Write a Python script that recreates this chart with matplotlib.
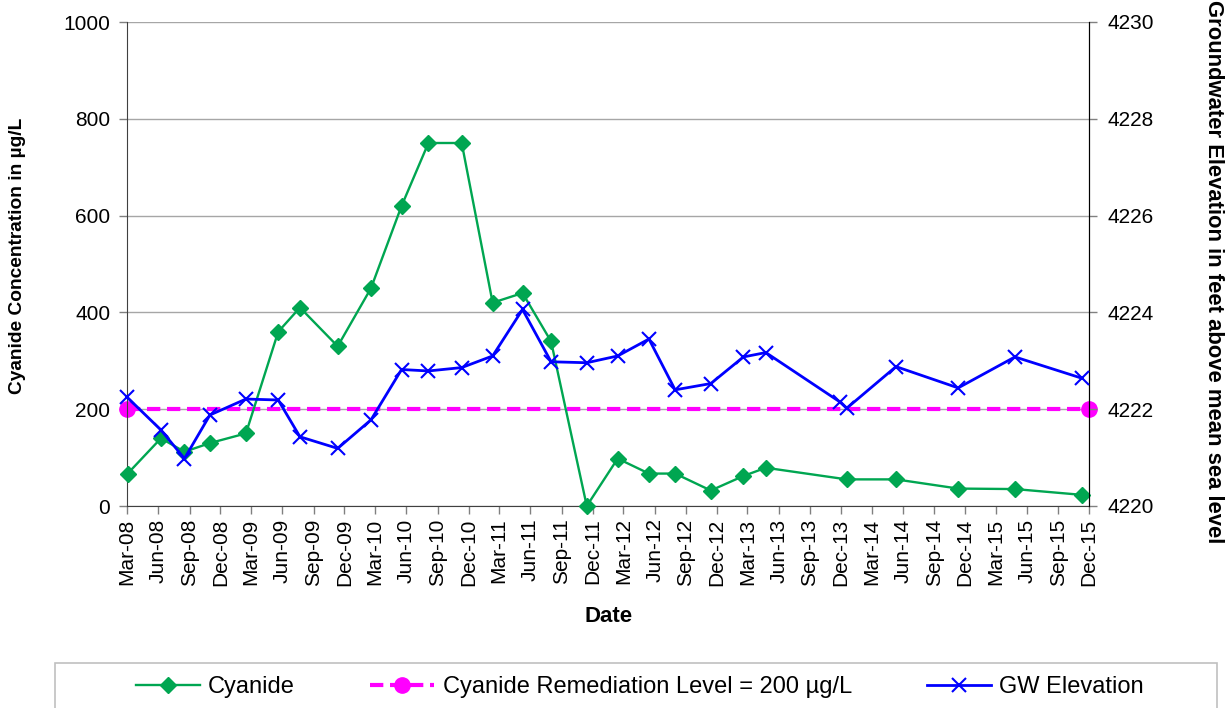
import matplotlib
matplotlib.use("Agg")
import matplotlib.pyplot as plt
import matplotlib.dates as mdates
import pandas as pd
from matplotlib.patches import Rectangle

# dados de cianeto (ug/L) e nivel da agua subterranea (ft)
datas_cianeto = ["2008-03-03", "2008-06-09", "2008-08-17", "2008-10-31", "2009-02-14",
                 "2009-05-20", "2009-07-23", "2009-11-11", "2010-02-17", "2010-05-18",
                 "2010-08-05", "2010-11-11", "2011-02-10", "2011-05-09", "2011-08-01",
                 "2011-11-14", "2012-02-13", "2012-05-15", "2012-07-31", "2012-11-13",
                 "2013-02-17", "2013-04-24", "2013-12-18", "2014-05-12", "2014-11-11",
                 "2015-04-27", "2015-11-10"]
cianeto = [67, 140, 112, 130, 150, 360, 410, 330, 450, 620, 750, 750, 420, 440, 340,
           0, 98, 67, 67, 32, 62, 79, 55, 55, 36, 35, 23]

datas_gw = ["2008-03-01", "2008-06-09", "2008-08-17", "2008-10-31", "2009-02-14",
            "2009-05-20", "2009-07-23", "2009-11-11", "2010-02-17", "2010-05-18",
            "2010-08-05", "2010-11-11", "2011-02-10", "2011-05-09", "2011-08-01",
            "2011-11-14", "2012-02-13", "2012-05-15", "2012-07-31", "2012-11-13",
            "2013-02-17", "2013-04-24", "2013-11-28", "2013-12-18", "2014-05-12",
            "2014-11-11", "2015-04-27", "2015-11-10"]
nivel_gw = [4222.25, 4221.57, 4220.98, 4221.88, 4222.21, 4222.19, 4221.43, 4221.19,
            4221.78, 4222.82, 4222.79, 4222.86, 4223.10, 4224.06, 4222.98, 4222.96,
            4223.10, 4223.45, 4222.40, 4222.53, 4223.08, 4223.17, 4222.15, 4222.02,
            4222.88, 4222.44, 4223.08, 4222.64]

datas_limite = ["2008-03-01", "2015-12-01"]
limite = [200, 200]

inicio_eixo = "2008-03-01"
fim_eixo = "2015-12-01"

plt.rcParams['font.family'] = ['Liberation Sans', 'DejaVu Sans']

fig = plt.figure(figsize=(12.27, 7.08), dpi=100)
ax = fig.add_axes([127 / 1227, 1 - 506 / 708, (1089 - 127) / 1227, (506 - 22) / 708])
ax2 = ax.twinx()

x_cn = pd.to_datetime(datas_cianeto)
x_gw = pd.to_datetime(datas_gw)
x_lim = pd.to_datetime(datas_limite)

l1, = ax.plot(x_cn, cianeto, color="#00a651", lw=1.7, marker="D", ms=8.5,
              clip_on=False, zorder=3, label="Cyanide")
l2, = ax.plot(x_lim, limite, color="#ff00ff", lw=3, ls=(0, (3.2, 1.6)), marker="o",
              ms=11, clip_on=False, zorder=2,
              label="Cyanide Remediation Level = 200 µg/L")
l3, = ax2.plot(x_gw, nivel_gw, color="#0000ff", lw=2, marker="x", ms=10, mew=1.5,
               clip_on=False, zorder=3, label="GW Elevation")

ax.set_xlim(pd.Timestamp(inicio_eixo), pd.Timestamp(fim_eixo))
ax.set_ylim(0, 1000)
ax.set_yticks(range(0, 1001, 200))
ax2.set_ylim(4220, 4230)
ax2.set_yticks(range(4220, 4231, 2))

ax.xaxis.set_major_locator(mdates.MonthLocator(bymonth=[3, 6, 9, 12]))
ax.xaxis.set_major_formatter(mdates.DateFormatter("%b-%y"))
for lbl in ax.get_xticklabels():
    lbl.set_rotation(90)

ax.grid(axis="y", color="#a6a6a6", lw=1.0)
ax.set_axisbelow(True)

for a in (ax, ax2):
    a.spines["top"].set_visible(False)
    a.tick_params(labelsize=15, length=6, width=1, color="#808080", pad=6)
ax.tick_params(axis="x", pad=3)
ax2.tick_params(axis="y", pad=7)
ax.spines["left"].set_color("#404040")
ax.spines["bottom"].set_color("#404040")
ax2.spines["right"].set_color("black")
ax2.spines["left"].set_visible(False)
ax2.spines["bottom"].set_visible(False)

fig.text(609 / 1227, 1 - 617 / 708, "Date", fontsize=16, fontweight="bold",
         ha="center", va="center")
fig.text(18 / 1227, 1 - 256 / 708, "Cyanide Concentration in µg/L", fontsize=13.8,
         fontweight="bold", rotation=90, ha="center", va="center")
fig.text(1214 / 1227, 1 - 272 / 708, "Groundwater Elevation in feet above mean sea level",
         fontsize=15.8, fontweight="bold", rotation=270, ha="center", va="center")

# caixa da legenda
fig.patches.append(Rectangle((55 / 1227, -0.05), (1217 - 55) / 1227, 0.05 + (708 - 663) / 708,
                             transform=fig.transFigure, fill=False,
                             edgecolor="#c0c0c0", lw=1.2))
fig.legend(handles=[l1, l2, l3], loc="center", bbox_to_anchor=(640 / 1227, 1 - 687 / 708),
           ncol=3, frameon=False, fontsize=17, handlelength=2.7, columnspacing=3.2,
           handletextpad=0.35)

fig.savefig("out.png", dpi=100)
